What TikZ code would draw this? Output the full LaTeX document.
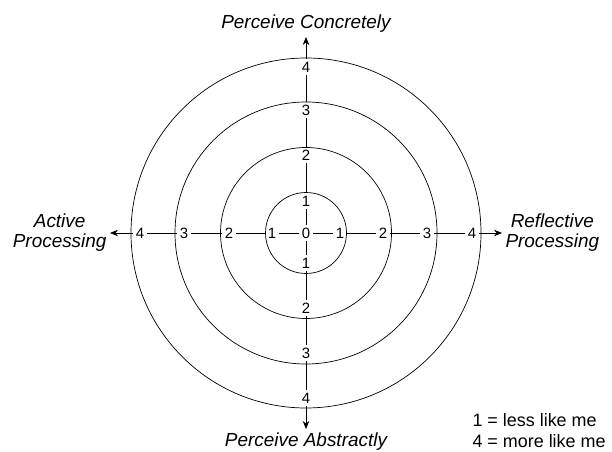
\documentclass[tikz,border=0pt]{standalone}
\usepackage{fontspec}
\setmainfont{Liberation Sans}
\usepackage{tikz}
\usetikzlibrary{arrows.meta, positioning}

\begin{document}
\begin{tikzpicture}[
    x=1bp, y=1bp,
    num/.style={
        fill=white, inner sep=2.5bp,
        font=\fontsize{15}{15}\selectfont
    },
    axislabel/.style={
        align=center, font=\fontsize{19}{20}\selectfont\itshape
    },
    ring/.style={draw, line width=0.7bp},
    seg/.style={line width=0.7bp},
    arr/.style={-{Stealth[length=8bp, width=6.5bp]}, line width=0.7bp}
]
\useasboundingbox (-306,-219) rectangle (306,233);

% scale labels
\node[num] (o) at (0,0) {0};
\node[num] (w1) at (-34,0) {1};
\node[num] (w2) at (-77,0) {2};
\node[num] (w3) at (-122,0) {3};
\node[num] (w4) at (-166,0) {4};
\node[num] (e1) at (34,0) {1};
\node[num] (e2) at (77,0) {2};
\node[num] (e3) at (121,0) {3};
\node[num] (e4) at (166,0) {4};
\node[num] (n1) at (0,32) {1};
\node[num] (n2) at (0,78) {2};
\node[num] (n3) at (0,123) {3};
\node[num] (n4) at (0,166) {4};
\node[num] (s1) at (0,-30) {1};
\node[num] (s2) at (0,-75) {2};
\node[num] (s3) at (0,-120) {3};
\node[num] (s4) at (0,-165) {4};

\draw[ring] (o.center) circle (40.5);
\draw[ring] (o.center) circle (85.5);
\draw[ring] (o.center) circle (131);
\draw[ring] (o.center) circle (175);

\coordinate (westend) at (-196,0);
\coordinate (eastend) at (196,0);
\coordinate (northend) at (0,196);
\coordinate (southend) at (0,-196);

\draw[seg] (o) -- (w1);
\draw[seg] (w1) -- (w2);
\draw[seg] (w2) -- (w3);
\draw[seg] (w3) -- (w4);
\draw[arr] (w4) -- (westend);
\draw[seg] (o) -- (e1);
\draw[seg] (e1) -- (e2);
\draw[seg] (e2) -- (e3);
\draw[seg] (e3) -- (e4);
\draw[arr] (e4) -- (eastend);
\draw[seg] (o) -- (n1);
\draw[seg] (n1) -- (n2);
\draw[seg] (n2) -- (n3);
\draw[seg] (n3) -- (n4);
\draw[arr] (n4) -- (northend);
\draw[seg] (o) -- (s1);
\draw[seg] (s1) -- (s2);
\draw[seg] (s2) -- (s3);
\draw[seg] (s3) -- (s4);
\draw[arr] (s4) -- (southend);

\node[axislabel, above=1bp of northend] (concrete) {Perceive Concretely};
\node[axislabel, below=0bp of southend] (abstract) {Perceive Abstractly};
\node[axislabel, left=0bp of westend] (active) {Active\\Processing};
\node[axislabel, right=0bp of eastend] (reflective) {Reflective\\Processing};

\node[align=left, anchor=west, font=\fontsize{18}{21}\selectfont] (legend) at (163,-198)
    {1 = less like me\\4 = more like me};
\end{tikzpicture}
\end{document}
